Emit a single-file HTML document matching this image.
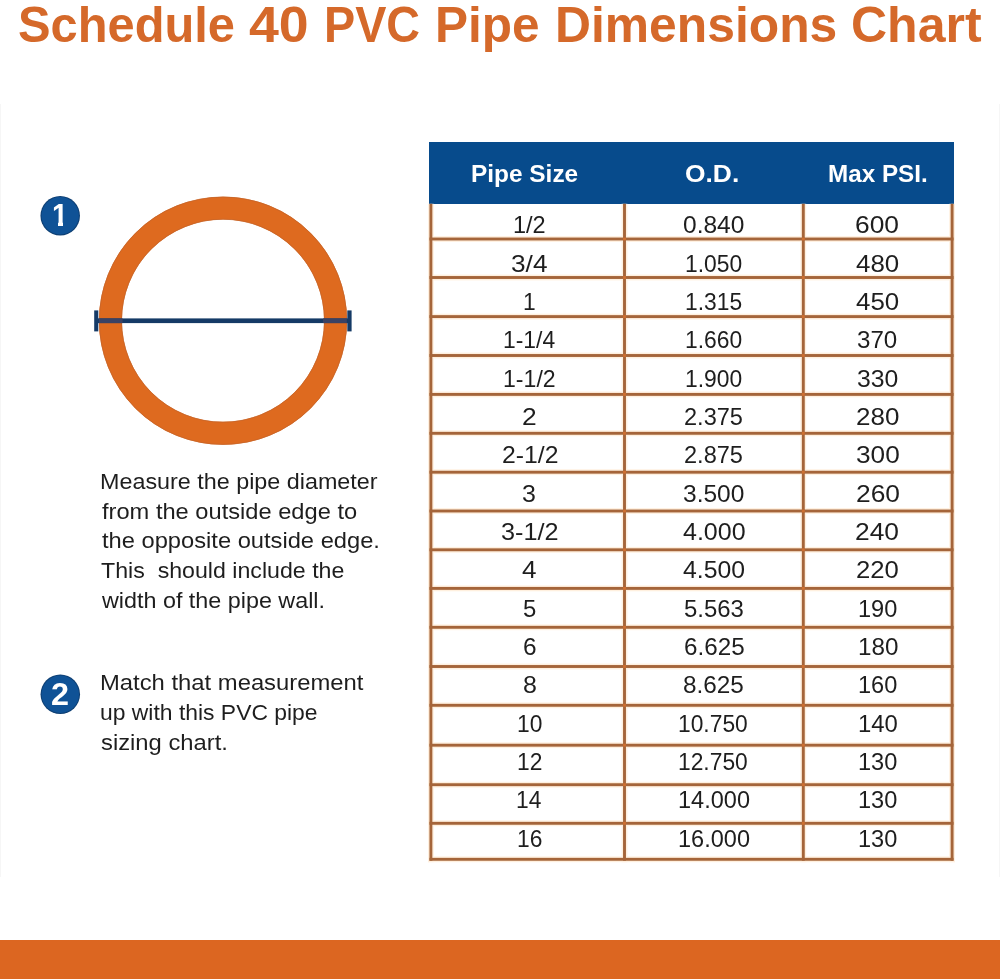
<!DOCTYPE html>
<html lang="en"><head><meta charset="utf-8"><title>Schedule 40 PVC Pipe Dimensions Chart</title>
<style>
html,body{margin:0;padding:0;background:#fff;}
body{width:1000px;height:979px;position:relative;overflow:hidden;font-family:"Liberation Sans", Arial, sans-serif;}
.t{position:absolute;display:block;white-space:pre;line-height:1;transform-origin:0 0;margin:0;padding:0;}
.abs{position:absolute;}
h1,p{margin:0;padding:0;font:inherit;}
</style></head><body>
<div class="abs" style="left:0;top:104px;width:1px;height:773px;background:#f6f6f6"></div><div class="abs" style="left:999px;top:104px;width:1px;height:773px;background:#f6f6f6"></div>
<div class="abs" style="left:0;top:940px;width:1000px;height:39px;background:#dc6621"></div>
<svg class="abs" style="left:80px;top:180px" width="300" height="290" viewBox="80 180 300 290">
<circle cx="223" cy="320.7" r="112.6" fill="none" stroke="#de6a1f" stroke-width="22.9"/>
<circle cx="223" cy="320.7" r="123.7" fill="none" stroke="#c5642a" stroke-width="0.8"/>
<circle cx="223" cy="320.7" r="101.5" fill="none" stroke="#c5642a" stroke-width="0.8"/>
<rect x="96.2" y="318.4" width="253.4" height="4.7" fill="#153a66"/>
<rect x="98.8" y="318.4" width="23.8" height="4.7" fill="#3a4264"/>
<rect x="323" y="318.4" width="23.8" height="4.7" fill="#3a4264"/>
<rect x="94.2" y="310.4" width="4.1" height="21" fill="#153a66"/>
<rect x="347.3" y="310.4" width="4.3" height="21" fill="#153a66"/>
</svg>
<svg class="abs" style="left:35px;top:190px" width="50" height="52" viewBox="35 190 50 52"><circle cx="60.2" cy="215.7" r="19.75" fill="#0e3f73"/><circle cx="60.2" cy="215.7" r="18.7" fill="#0f5296"/></svg>
<svg class="abs" style="left:35px;top:669px" width="50" height="52" viewBox="35 669 50 52"><circle cx="60.3" cy="694.3" r="19.75" fill="#0e3f73"/><circle cx="60.3" cy="694.3" r="18.7" fill="#0f5296"/></svg>
<div class="abs" style="left:429.3px;top:141.7px;width:525.1px;height:62.1px;background:#074b8c"></div>
<svg class="abs" style="left:420px;top:200px" width="540" height="670" viewBox="420 200 540 670"><g fill="#fff0df"><rect x="428.00" y="203.8" width="5.8" height="658.4"/><rect x="621.60" y="203.8" width="5.8" height="658.4"/><rect x="800.40" y="203.8" width="5.8" height="658.4"/><rect x="949.20" y="203.8" width="5.8" height="658.4"/><rect x="428" y="236.10" width="527.0" height="5.8"/><rect x="428" y="274.60" width="527.0" height="5.8"/><rect x="428" y="313.70" width="527.0" height="5.8"/><rect x="428" y="352.60" width="527.0" height="5.8"/><rect x="428" y="391.50" width="527.0" height="5.8"/><rect x="428" y="430.40" width="527.0" height="5.8"/><rect x="428" y="469.30" width="527.0" height="5.8"/><rect x="428" y="508.10" width="527.0" height="5.8"/><rect x="428" y="546.90" width="527.0" height="5.8"/><rect x="428" y="585.50" width="527.0" height="5.8"/><rect x="428" y="624.40" width="527.0" height="5.8"/><rect x="428" y="663.60" width="527.0" height="5.8"/><rect x="428" y="702.40" width="527.0" height="5.8"/><rect x="428" y="742.30" width="527.0" height="5.8"/><rect x="428" y="781.80" width="527.0" height="5.8"/><rect x="428" y="820.40" width="527.0" height="5.8"/><rect x="428" y="856.40" width="527.0" height="5.8"/></g><g fill="#a5653a"><rect x="429.45" y="203.8" width="2.9" height="656.95"/><rect x="623.05" y="203.8" width="2.9" height="656.95"/><rect x="801.85" y="203.8" width="2.9" height="656.95"/><rect x="950.65" y="203.8" width="2.9" height="656.95"/><rect x="429.45" y="237.55" width="524.10" height="2.9"/><rect x="429.45" y="276.05" width="524.10" height="2.9"/><rect x="429.45" y="315.15" width="524.10" height="2.9"/><rect x="429.45" y="354.05" width="524.10" height="2.9"/><rect x="429.45" y="392.95" width="524.10" height="2.9"/><rect x="429.45" y="431.85" width="524.10" height="2.9"/><rect x="429.45" y="470.75" width="524.10" height="2.9"/><rect x="429.45" y="509.55" width="524.10" height="2.9"/><rect x="429.45" y="548.35" width="524.10" height="2.9"/><rect x="429.45" y="586.95" width="524.10" height="2.9"/><rect x="429.45" y="625.85" width="524.10" height="2.9"/><rect x="429.45" y="665.05" width="524.10" height="2.9"/><rect x="429.45" y="703.85" width="524.10" height="2.9"/><rect x="429.45" y="743.75" width="524.10" height="2.9"/><rect x="429.45" y="783.25" width="524.10" height="2.9"/><rect x="429.45" y="821.85" width="524.10" height="2.9"/><rect x="429.45" y="857.85" width="524.10" height="2.9"/></g><g fill="#cf7031"><rect x="623.05" y="237.55" width="2.9" height="2.9"/><rect x="623.05" y="276.05" width="2.9" height="2.9"/><rect x="623.05" y="315.15" width="2.9" height="2.9"/><rect x="623.05" y="354.05" width="2.9" height="2.9"/><rect x="623.05" y="392.95" width="2.9" height="2.9"/><rect x="623.05" y="431.85" width="2.9" height="2.9"/><rect x="623.05" y="470.75" width="2.9" height="2.9"/><rect x="623.05" y="509.55" width="2.9" height="2.9"/><rect x="623.05" y="548.35" width="2.9" height="2.9"/><rect x="623.05" y="586.95" width="2.9" height="2.9"/><rect x="623.05" y="625.85" width="2.9" height="2.9"/><rect x="623.05" y="665.05" width="2.9" height="2.9"/><rect x="623.05" y="703.85" width="2.9" height="2.9"/><rect x="623.05" y="743.75" width="2.9" height="2.9"/><rect x="623.05" y="783.25" width="2.9" height="2.9"/><rect x="623.05" y="821.85" width="2.9" height="2.9"/><rect x="801.85" y="237.55" width="2.9" height="2.9"/><rect x="801.85" y="276.05" width="2.9" height="2.9"/><rect x="801.85" y="315.15" width="2.9" height="2.9"/><rect x="801.85" y="354.05" width="2.9" height="2.9"/><rect x="801.85" y="392.95" width="2.9" height="2.9"/><rect x="801.85" y="431.85" width="2.9" height="2.9"/><rect x="801.85" y="470.75" width="2.9" height="2.9"/><rect x="801.85" y="509.55" width="2.9" height="2.9"/><rect x="801.85" y="548.35" width="2.9" height="2.9"/><rect x="801.85" y="586.95" width="2.9" height="2.9"/><rect x="801.85" y="625.85" width="2.9" height="2.9"/><rect x="801.85" y="665.05" width="2.9" height="2.9"/><rect x="801.85" y="703.85" width="2.9" height="2.9"/><rect x="801.85" y="743.75" width="2.9" height="2.9"/><rect x="801.85" y="783.25" width="2.9" height="2.9"/><rect x="801.85" y="821.85" width="2.9" height="2.9"/></g></svg>
<h1><span class="t" style="font-size:50px;font-weight:700;color:#d5692a;left:17.54px;top:0px;transform:scaleX(0.9763);">Schedule</span>
<span class="t" style="font-size:50px;font-weight:700;color:#d5692a;left:248.60px;top:0px;transform:scaleX(1.0730);">40</span>
<span class="t" style="font-size:50px;font-weight:700;color:#d5692a;left:323.56px;top:0px;transform:scaleX(0.9347);">PVC</span>
<span class="t" style="font-size:50px;font-weight:700;color:#d5692a;left:435.48px;top:0px;transform:scaleX(0.9906);">Pipe</span>
<span class="t" style="font-size:50px;font-weight:700;color:#d5692a;left:555.26px;top:0px;transform:scaleX(0.9960);">Dimensions</span>
<span class="t" style="font-size:50px;font-weight:700;color:#d5692a;left:851.00px;top:0px;">Chart</span>
</h1>
<p><span class="t" style="font-size:22px;font-weight:400;color:#1e1e1e;left:100.14px;top:471px;transform:scaleX(1.0605);">Measure the pipe diameter</span>
<span class="t" style="font-size:22px;font-weight:400;color:#1e1e1e;left:101.73px;top:501px;transform:scaleX(1.0754);">from the outside edge to</span>
<span class="t" style="font-size:22px;font-weight:400;color:#1e1e1e;left:101.73px;top:530px;transform:scaleX(1.0768);">the opposite outside edge.</span>
<span class="t" style="font-size:22px;font-weight:400;color:#1e1e1e;left:101.47px;top:560px;transform:scaleX(1.0529);">This  should include the</span>
<span class="t" style="font-size:22px;font-weight:400;color:#1e1e1e;left:102.00px;top:590px;transform:scaleX(1.0603);">width of the pipe wall.</span>
</p>
<p><span class="t" style="font-size:22px;font-weight:400;color:#1e1e1e;left:100.11px;top:672px;transform:scaleX(1.0824);">Match that measurement</span>
<span class="t" style="font-size:22px;font-weight:400;color:#1e1e1e;left:100.44px;top:702px;transform:scaleX(1.0404);">up with this PVC pipe</span>
<span class="t" style="font-size:22px;font-weight:400;color:#1e1e1e;left:101.19px;top:732px;transform:scaleX(1.0812);">sizing chart.</span>
</p>
<span class="t" style="font-size:31px;font-weight:700;color:#ffffff;left:51.89px;top:200px;transform:scaleX(0.9200);">1</span>
<span class="t" style="font-size:31px;font-weight:700;color:#ffffff;left:50.71px;top:679px;transform:scaleX(1.0433);">2</span>
<span class="t" style="font-size:24.5px;font-weight:700;color:#ffffff;left:471.46px;top:162px;transform:scaleX(0.9962);">Pipe Size</span>
<span class="t" style="font-size:24.5px;font-weight:700;color:#ffffff;left:684.52px;top:162px;transform:scaleX(1.0764);">O.D.</span>
<span class="t" style="font-size:24.5px;font-weight:700;color:#ffffff;left:827.67px;top:162px;transform:scaleX(0.9892);">Max PSI.</span>
<span class="t" style="font-size:24px;font-weight:400;color:#1e1e1e;left:512.98px;top:213px;transform:scaleX(0.9803);">1/2</span>
<span class="t" style="font-size:24px;font-weight:400;color:#1e1e1e;left:683.38px;top:213px;transform:scaleX(1.0224);">0.840</span>
<span class="t" style="font-size:24px;font-weight:400;color:#1e1e1e;left:855.41px;top:213px;transform:scaleX(1.1000);">600</span>
<span class="t" style="font-size:24px;font-weight:400;color:#1e1e1e;left:511.21px;top:252px;transform:scaleX(1.0929);">3/4</span>
<span class="t" style="font-size:24px;font-weight:400;color:#1e1e1e;left:684.83px;top:252px;transform:scaleX(0.9520);">1.050</span>
<span class="t" style="font-size:24px;font-weight:400;color:#1e1e1e;left:856.46px;top:252px;transform:scaleX(1.0779);">480</span>
<span class="t" style="font-size:24px;font-weight:400;color:#1e1e1e;left:522.70px;top:290px;transform:scaleX(0.9500);">1</span>
<span class="t" style="font-size:24px;font-weight:400;color:#1e1e1e;left:684.69px;top:290px;transform:scaleX(0.9500);">1.315</span>
<span class="t" style="font-size:24px;font-weight:400;color:#1e1e1e;left:856.46px;top:290px;transform:scaleX(1.0779);">450</span>
<span class="t" style="font-size:24px;font-weight:400;color:#1e1e1e;left:502.53px;top:328px;transform:scaleX(0.9531);">1-1/4</span>
<span class="t" style="font-size:24px;font-weight:400;color:#1e1e1e;left:684.83px;top:328px;transform:scaleX(0.9520);">1.660</span>
<span class="t" style="font-size:24px;font-weight:400;color:#1e1e1e;left:857.19px;top:328px;transform:scaleX(1.0053);">370</span>
<span class="t" style="font-size:24px;font-weight:400;color:#1e1e1e;left:502.52px;top:367px;transform:scaleX(0.9623);">1-1/2</span>
<span class="t" style="font-size:24px;font-weight:400;color:#1e1e1e;left:684.83px;top:367px;transform:scaleX(0.9520);">1.900</span>
<span class="t" style="font-size:24px;font-weight:400;color:#1e1e1e;left:857.17px;top:367px;transform:scaleX(1.0316);">330</span>
<span class="t" style="font-size:24px;font-weight:400;color:#1e1e1e;left:521.98px;top:405px;transform:scaleX(1.1000);">2</span>
<span class="t" style="font-size:24px;font-weight:400;color:#1e1e1e;left:683.67px;top:405px;transform:scaleX(0.9818);">2.375</span>
<span class="t" style="font-size:24px;font-weight:400;color:#1e1e1e;left:856.25px;top:405px;transform:scaleX(1.0834);">280</span>
<span class="t" style="font-size:24px;font-weight:400;color:#1e1e1e;left:501.81px;top:443px;transform:scaleX(1.0316);">2-1/2</span>
<span class="t" style="font-size:24px;font-weight:400;color:#1e1e1e;left:683.67px;top:443px;transform:scaleX(0.9818);">2.875</span>
<span class="t" style="font-size:24px;font-weight:400;color:#1e1e1e;left:855.91px;top:443px;transform:scaleX(1.0921);">300</span>
<span class="t" style="font-size:24px;font-weight:400;color:#1e1e1e;left:522.26px;top:482px;transform:scaleX(1.0400);">3</span>
<span class="t" style="font-size:24px;font-weight:400;color:#1e1e1e;left:683.38px;top:482px;transform:scaleX(1.0224);">3.500</span>
<span class="t" style="font-size:24px;font-weight:400;color:#1e1e1e;left:855.63px;top:482px;transform:scaleX(1.0993);">260</span>
<span class="t" style="font-size:24px;font-weight:400;color:#1e1e1e;left:500.95px;top:520px;transform:scaleX(1.0514);">3-1/2</span>
<span class="t" style="font-size:24px;font-weight:400;color:#1e1e1e;left:682.78px;top:520px;transform:scaleX(1.0427);">4.000</span>
<span class="t" style="font-size:24px;font-weight:400;color:#1e1e1e;left:855.41px;top:520px;transform:scaleX(1.1000);">240</span>
<span class="t" style="font-size:24px;font-weight:400;color:#1e1e1e;left:522.16px;top:558px;transform:scaleX(1.0857);">4</span>
<span class="t" style="font-size:24px;font-weight:400;color:#1e1e1e;left:682.78px;top:558px;transform:scaleX(1.0325);">4.500</span>
<span class="t" style="font-size:24px;font-weight:400;color:#1e1e1e;left:855.66px;top:558px;transform:scaleX(1.0702);">220</span>
<span class="t" style="font-size:24px;font-weight:400;color:#1e1e1e;left:522.80px;top:597px;transform:scaleX(0.9956);">5</span>
<span class="t" style="font-size:24px;font-weight:400;color:#1e1e1e;left:683.90px;top:597px;transform:scaleX(0.9966);">5.563</span>
<span class="t" style="font-size:24px;font-weight:400;color:#1e1e1e;left:858.08px;top:597px;transform:scaleX(0.9826);">190</span>
<span class="t" style="font-size:24px;font-weight:400;color:#1e1e1e;left:522.53px;top:635px;transform:scaleX(1.0182);">6</span>
<span class="t" style="font-size:24px;font-weight:400;color:#1e1e1e;left:683.64px;top:635px;transform:scaleX(1.0095);">6.625</span>
<span class="t" style="font-size:24px;font-weight:400;color:#1e1e1e;left:858.03px;top:635px;transform:scaleX(1.0094);">180</span>
<span class="t" style="font-size:24px;font-weight:400;color:#1e1e1e;left:522.76px;top:673px;transform:scaleX(1.0400);">8</span>
<span class="t" style="font-size:24px;font-weight:400;color:#1e1e1e;left:683.39px;top:673px;transform:scaleX(1.0138);">8.625</span>
<span class="t" style="font-size:24px;font-weight:400;color:#1e1e1e;left:858.08px;top:673px;transform:scaleX(0.9826);">160</span>
<span class="t" style="font-size:24px;font-weight:400;color:#1e1e1e;left:516.79px;top:712px;transform:scaleX(0.9500);">10</span>
<span class="t" style="font-size:24px;font-weight:400;color:#1e1e1e;left:678.23px;top:712px;transform:scaleX(0.9500);">10.750</span>
<span class="t" style="font-size:24px;font-weight:400;color:#1e1e1e;left:858.06px;top:712px;transform:scaleX(0.9960);">140</span>
<span class="t" style="font-size:24px;font-weight:400;color:#1e1e1e;left:517.16px;top:750px;transform:scaleX(0.9500);">12</span>
<span class="t" style="font-size:24px;font-weight:400;color:#1e1e1e;left:678.23px;top:750px;transform:scaleX(0.9500);">12.750</span>
<span class="t" style="font-size:24px;font-weight:400;color:#1e1e1e;left:858.08px;top:750px;transform:scaleX(0.9826);">130</span>
<span class="t" style="font-size:24px;font-weight:400;color:#1e1e1e;left:516.37px;top:788px;transform:scaleX(0.9500);">14</span>
<span class="t" style="font-size:24px;font-weight:400;color:#1e1e1e;left:677.88px;top:788px;transform:scaleX(0.9809);">14.000</span>
<span class="t" style="font-size:24px;font-weight:400;color:#1e1e1e;left:858.08px;top:788px;transform:scaleX(0.9826);">130</span>
<span class="t" style="font-size:24px;font-weight:400;color:#1e1e1e;left:516.59px;top:827px;transform:scaleX(0.9500);">16</span>
<span class="t" style="font-size:24px;font-weight:400;color:#1e1e1e;left:677.88px;top:827px;transform:scaleX(0.9809);">16.000</span>
<span class="t" style="font-size:24px;font-weight:400;color:#1e1e1e;left:858.08px;top:827px;transform:scaleX(0.9826);">130</span>
<div class="abs" style="left:52px;top:222px;width:6px;height:5px;background:#0f5296"></div><div class="abs" style="left:63px;top:222px;width:5px;height:5px;background:#0f5296"></div>
</body></html>
